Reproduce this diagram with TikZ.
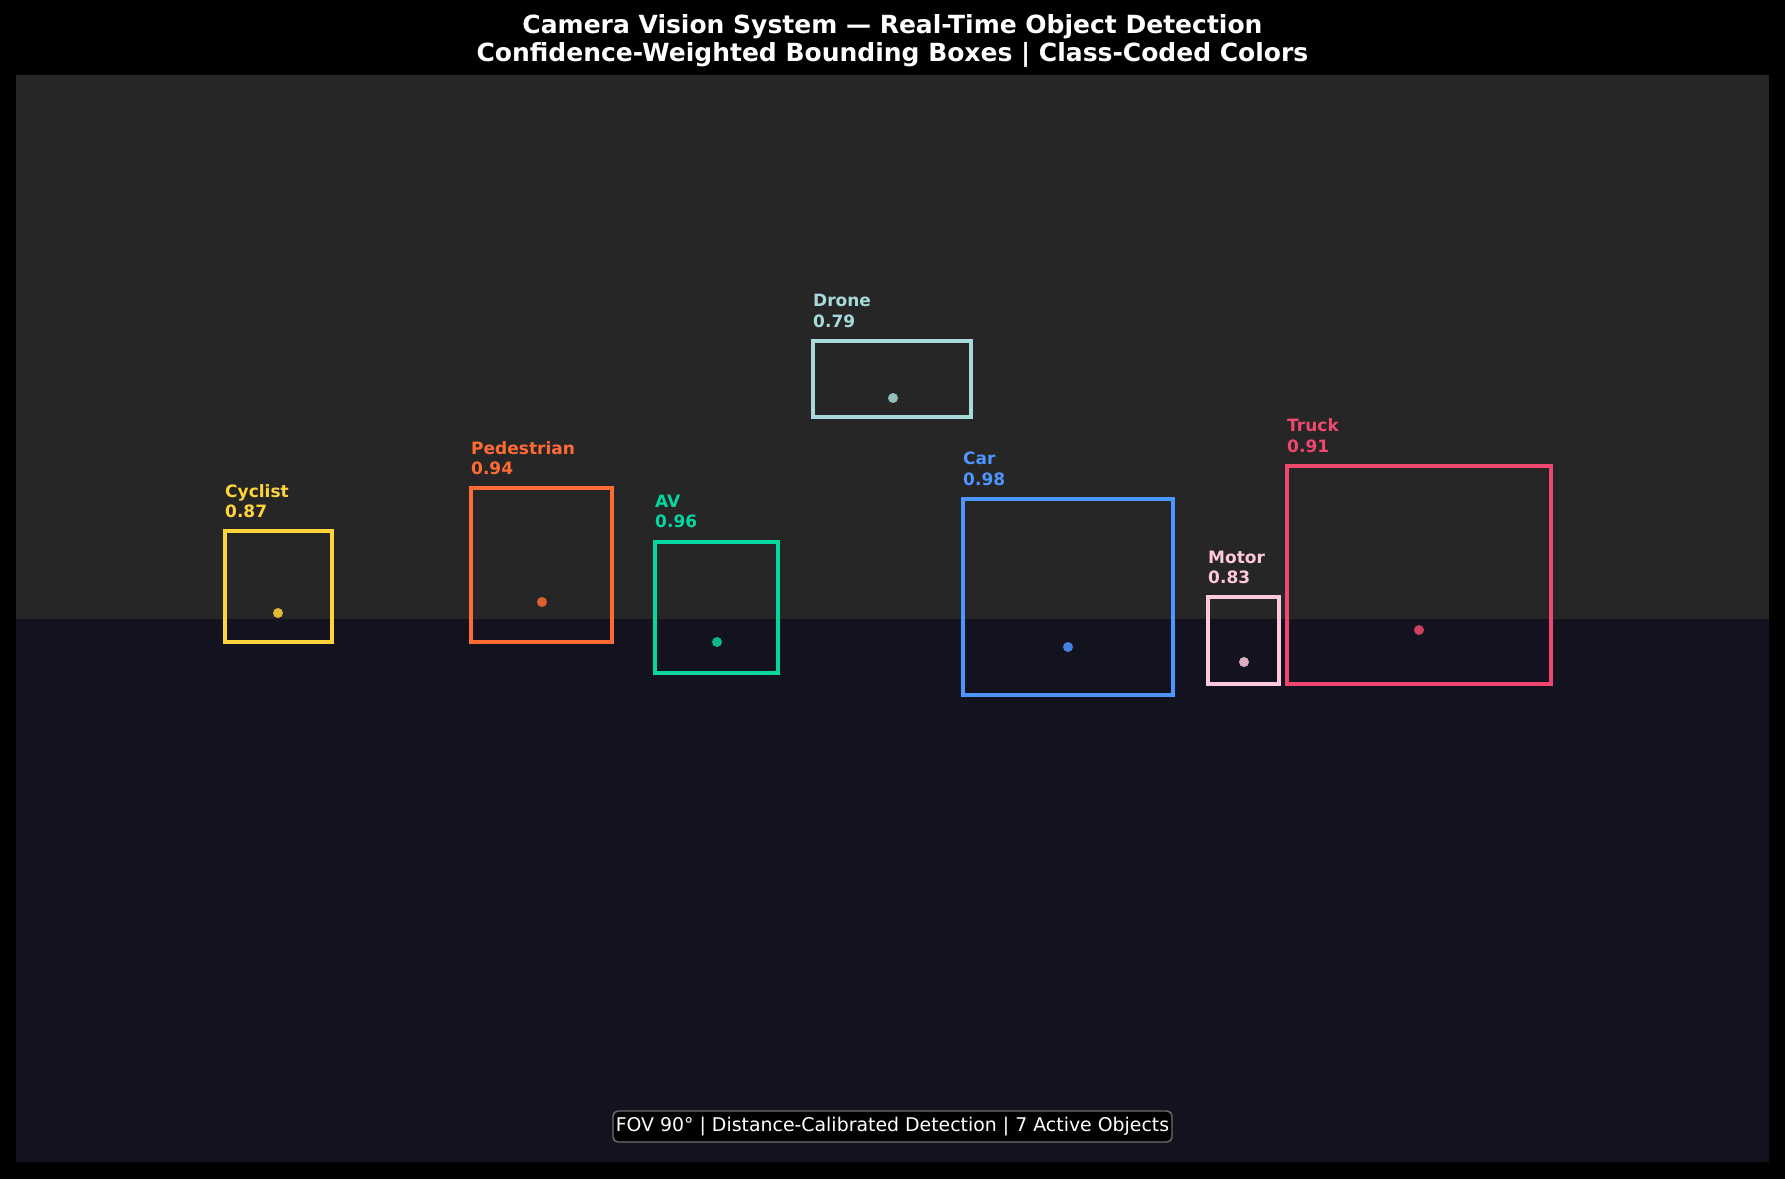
\documentclass[tikz,border=0pt]{standalone}
\usepackage{fontspec}
\setmainfont{DejaVu Sans}
\definecolor{outerbg}{HTML}{000000}
\definecolor{skybg}{HTML}{262626}
\definecolor{groundbg}{HTML}{12131F}
\definecolor{cCyc}{HTML}{FFD43B}
\definecolor{cPed}{HTML}{FF6B35}
\definecolor{cAV}{HTML}{06D6A0}
\definecolor{cDrone}{HTML}{A8DADC}
\definecolor{cCar}{HTML}{4D96FF}
\definecolor{cMotor}{HTML}{FFC8DD}
\definecolor{cTruck}{HTML}{EF476F}
\definecolor{footborder}{HTML}{707070}
\tikzset{
  detbox/.style={draw=#1, line width=3.7pt},
  detdot/.style={fill=#1, fill opacity=0.85, draw=none},
  lbl/.style={text=#1, font=\fontsize{17}{20}\selectfont\bfseries, anchor=base west, inner sep=0pt},
  titletxt/.style={text=white, font=\fontsize{25}{30}\selectfont\bfseries, inner sep=0pt, anchor=center},
  foot/.style={draw=footborder, line width=1.4pt, fill=black, rounded corners=5pt, text=white,
    font=\fontsize{18.9}{22}\selectfont, minimum width=559pt, minimum height=31pt, inner sep=0pt}
}
\begin{document}
\begin{tikzpicture}[x=1pt,y=-1pt]
\useasboundingbox (0,0) rectangle (1785,1179);
\fill[outerbg] (0,0) rectangle (1785,1179);
\fill[skybg] (16,75) rectangle (1769,619);
\fill[groundbg] (16,619) rectangle (1769,1162);

\node[titletxt] (t1) at (892.5,26.5) {Camera Vision System — Real-Time Object Detection};
\node[titletxt] (t2) at (892.5,55) {Confidence-Weighted Bounding Boxes | Class-Coded Colors};

% Cyclist
\draw[detbox=cCyc] (225,531) rectangle (332,642);
\fill[detdot=cCyc] (278,613) circle (5);
\node[lbl=cCyc] (cycN) at (225,497) {Cyclist};
\node[lbl=cCyc] (cycS) at (225,517) {0.87};

% Pedestrian
\draw[detbox=cPed] (471,488) rectangle (612,642);
\fill[detdot=cPed] (542,602) circle (5);
\node[lbl=cPed] (pedN) at (471,454) {Pedestrian};
\node[lbl=cPed] (pedS) at (471,474) {0.94};

% AV
\draw[detbox=cAV] (655,542) rectangle (778,673);
\fill[detdot=cAV] (717,642) circle (5);
\node[lbl=cAV] (avN) at (655,507) {AV};
\node[lbl=cAV] (avS) at (655,527) {0.96};

% Drone
\draw[detbox=cDrone] (813,341) rectangle (971,417);
\fill[detdot=cDrone] (893,398) circle (5);
\node[lbl=cDrone] (drN) at (813,306) {Drone};
\node[lbl=cDrone] (drS) at (813,327) {0.79};

% Car
\draw[detbox=cCar] (963,499) rectangle (1173,695);
\fill[detdot=cCar] (1068,647) circle (5);
\node[lbl=cCar] (carN) at (963,464) {Car};
\node[lbl=cCar] (carS) at (963,485) {0.98};

% Motor
\draw[detbox=cMotor] (1208,597) rectangle (1279,684);
\fill[detdot=cMotor] (1244,662) circle (5);
\node[lbl=cMotor] (motN) at (1208,563) {Motor};
\node[lbl=cMotor] (motS) at (1208,583) {0.83};

% Truck
\draw[detbox=cTruck] (1287,466) rectangle (1551,684);
\fill[detdot=cTruck] (1419,630) circle (5);
\node[lbl=cTruck] (trN) at (1287,431) {Truck};
\node[lbl=cTruck] (trS) at (1287,452) {0.91};

\node[foot] (footer) at (892.5,1126.5) {FOV 90° | Distance-Calibrated Detection | 7 Active Objects};
\end{tikzpicture}
\end{document}
